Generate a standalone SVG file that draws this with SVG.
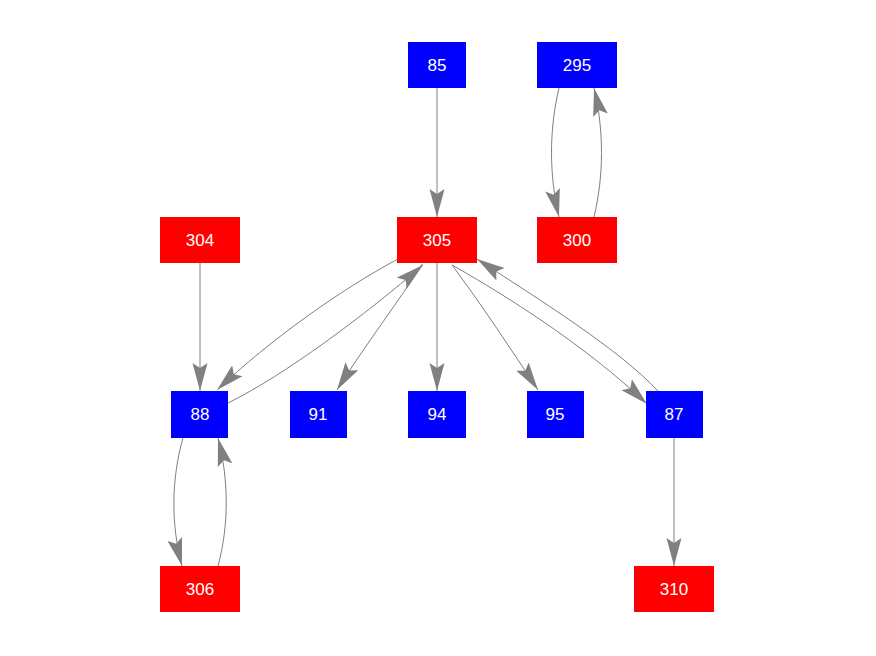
<svg xmlns="http://www.w3.org/2000/svg" width="876" height="656" viewBox="0 0 876 656">
<defs>
<style>
.r{fill:#ff0000}
.b{fill:#0000ff}
text{fill:#ffffff;font-family:"Liberation Sans",Arial,sans-serif;font-size:17px;text-anchor:middle}
.e{fill:none;stroke:#808080;stroke-width:1;marker-end:url(#a)}
</style>
<marker id="a" viewBox="0 0 28 16" refX="28" refY="8" markerWidth="28" markerHeight="16" markerUnits="userSpaceOnUse" orient="auto">
<path d="M0,0.5 L28,8 L0,15.5 L5,8 Z" fill="#808080"/>
</marker>
</defs>
<rect width="876" height="656" fill="#ffffff"/>
<g id="edges">
<path class="e" d="M437,88 L437,217"/>
<path class="e" d="M559,88 C549,130 549,175 559,217"/>
<path class="e" d="M594,217 C604,175 604,130 594,88"/>
<path class="e" d="M200,263 L200,391"/>
<path class="e" d="M398,259 C340,290 270,340 217,390"/>
<path class="e" d="M228,403 C285,375 365,315 423,265"/>
<path class="e" d="M422,264 C400,300 365,345 337,390"/>
<path class="e" d="M437,263 L437,391"/>
<path class="e" d="M452,265 C482,305 510,348 538,390"/>
<path class="e" d="M452,265 C505,295 585,345 647,404"/>
<path class="e" d="M658,391 C620,350 540,300 477,259"/>
<path class="e" d="M674,438 L674,566"/>
<path class="e" d="M183,438 C171,480 171,525 182,566"/>
<path class="e" d="M218,566 C229,525 229,480 218,438"/>
</g>
<g id="n85"><rect class="b" x="408" y="42" width="58" height="46"/><text x="437" y="71">85</text></g>
<g id="n295"><rect class="b" x="537" y="42" width="80" height="46"/><text x="577" y="71">295</text></g>
<g id="n304"><rect class="r" x="160" y="217" width="80" height="46"/><text x="200" y="246">304</text></g>
<g id="n305"><rect class="r" x="397" y="217" width="80" height="46"/><text x="437" y="246">305</text></g>
<g id="n300"><rect class="r" x="537" y="217" width="80" height="46"/><text x="577" y="246">300</text></g>
<g id="n88"><rect class="b" x="171" y="391" width="57" height="47"/><text x="200" y="420">88</text></g>
<g id="n91"><rect class="b" x="290" y="391" width="57" height="47"/><text x="318" y="420">91</text></g>
<g id="n94"><rect class="b" x="408" y="391" width="58" height="47"/><text x="437" y="420">94</text></g>
<g id="n95"><rect class="b" x="527" y="391" width="57" height="47"/><text x="555" y="420">95</text></g>
<g id="n87"><rect class="b" x="646" y="391" width="57" height="47"/><text x="674" y="420">87</text></g>
<g id="n306"><rect class="r" x="160" y="566" width="80" height="46"/><text x="200" y="595">306</text></g>
<g id="n310"><rect class="r" x="634" y="566" width="80" height="46"/><text x="674" y="595">310</text></g>
</svg>
